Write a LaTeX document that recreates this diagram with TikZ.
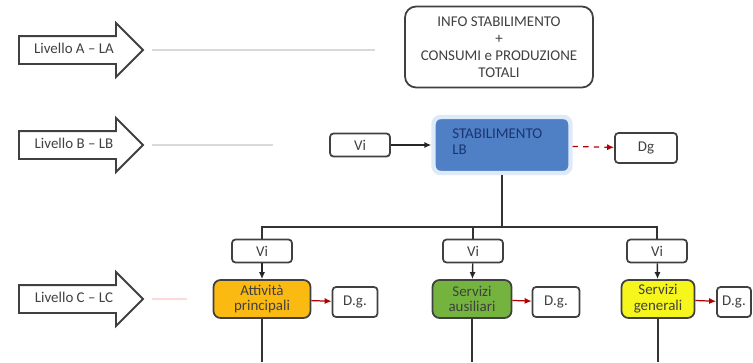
\documentclass[tikz,border=0pt]{standalone}
\usepackage{fontspec}
\setmainfont{Carlito}
\usetikzlibrary{positioning}
\usetikzlibrary{shapes.arrows}
\usetikzlibrary{arrows.meta}

\definecolor{stabblue}{RGB}{79,127,196}
\definecolor{stabtext}{RGB}{28,52,115}
\definecolor{stabglow}{RGB}{222,234,248}
\definecolor{princ}{RGB}{250,186,18}
\definecolor{ausil}{RGB}{116,180,62}
\definecolor{gener}{RGB}{246,246,28}

\begin{document}
\begin{tikzpicture}
    [ x=0.02cm, y=-0.02cm,
    every node/.style={font=\fontsize{8.5}{9.5}\selectfont, text=black!75},
    lvl/.style={single arrow, draw=black!75, line width=1.1pt, fill=white,
      minimum height=2.48cm, single arrow head extend=0.26cm,
      inner ysep=3.4pt, inner xsep=4pt, text height=6pt, text depth=2pt},
    box/.style={draw=black!75, line width=1pt, rounded corners=2pt, fill=white},
    vi/.style={box, minimum width=1.2cm, minimum height=0.46cm, inner sep=1pt},
    dg/.style={box, minimum height=0.6cm, inner sep=1pt},
    area/.style={box, rounded corners=4pt, minimum height=0.76cm,
      align=center, inner sep=1pt, font=\fontsize{8.5}{9}\selectfont},
    guide/.style={black!15, line width=1pt},
    tree/.style={black!80, line width=0.9pt},
    flow/.style={-{Latex[length=4pt,width=3.5pt]}, black!85, line width=0.8pt},
    loss/.style={-{Latex[length=4pt,width=3.5pt]}, red!70!black, dashed, line width=0.7pt}
    ]

    \useasboundingbox (0,0) rectangle (753,362);

    % livelli
    \node[lvl, anchor=tail] (LA) at (18,50) {Livello A -- LA};
    \node[lvl, anchor=tail] (LB) at (18,145) {Livello B -- LB};
    \node[lvl, anchor=tail] (LC) at (18,299) {Livello C -- LC};

    \coordinate (gA) at (375,50);
    \coordinate (gB) at (273,145);
    \coordinate (gC) at (187,299);
    \draw [guide] ([xshift=0.16cm]LA.tip) -- (gA);
    \draw [guide] ([xshift=0.16cm]LB.tip) -- (gB);
    \draw [guide, red!15] ([xshift=0.16cm]LC.tip) -- (gC);

    % livello A
    \node[box, rounded corners=0.22cm, minimum width=3.76cm, minimum height=1.62cm,
      align=center, font=\fontsize{8.5}{9.7}\selectfont] (info) at (499,47)
      {INFO STABILIMENTO\\+\\CONSUMI e PRODUZIONE\\TOTALI};

    % livello B
    \node[vi] (ViB) at (360,145) {Vi};
    \node[box, fill=stabblue, draw=stabglow, line width=2.5pt, rounded corners=4pt,
      minimum width=2.74cm, minimum height=1.12cm] (stab) at (502,145) {};
    \node[anchor=north west, text=stabtext, align=left, inner sep=0pt,
      font=\fontsize{8.5}{9.5}\selectfont] (stabT) at (452,128) {STABILIMENTO\\LB};
    \node[dg, minimum width=1.24cm] (DgB) at (646,148) {Dg};

    \draw [flow] (ViB) -- (stab);
    \draw [loss] (stab) -- (DgB);

    % livello C
    \coordinate (jB) at (502,227);
    \node[vi] (Vi1) at (262,251) {Vi};
    \node[vi] (Vi2) at (473,251) {Vi};
    \node[vi] (Vi3) at (657,251) {Vi};

    \draw [tree] (stab) -- (jB);
    \draw [tree] (Vi1.north) |- (Vi3.north |- jB) -- (Vi3.north);
    \draw [tree] (Vi2.north |- jB) -- (Vi2.north);

    \node[area, fill=princ, minimum width=1.94cm] (AP) at (262,299) {Attività\\principali};
    \node[area, fill=ausil, minimum width=1.58cm] (SA) at (472,299) {Servizi\\ausiliari};
    \node[area, fill=gener, minimum width=1.46cm] (SG) at (658,299) {Servizi\\generali};

    \node[dg, minimum width=0.9cm] (Dg1) at (355,302) {D.g.};
    \node[dg, minimum width=0.94cm] (Dg2) at (556,302) {D.g.};
    \node[dg, minimum width=0.68cm] (Dg3) at (734,302) {D.g.};

    \foreach \v/\a/\d in {Vi1/AP/Dg1, Vi2/SA/Dg2, Vi3/SG/Dg3}{
      \draw [flow] (\v) -- (\a);
      \draw [loss, solid] (\a) -- (\d);
      \coordinate (e\a) at (\a |- 0,362);
      \draw [tree] (\a) -- (e\a);
    }
  \end{tikzpicture}
\end{document}
